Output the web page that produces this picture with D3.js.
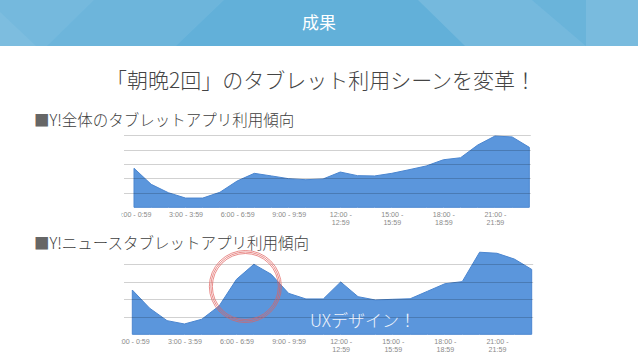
<!DOCTYPE html>
<html>
<head>
<meta charset="utf-8">
<script src="https://cdn.jsdelivr.net/npm/d3@7"></script>
<style>
  body { margin: 0; background: #fff; }
  svg { display: block; font-family: "Noto Sans CJK JP", "Noto Sans", sans-serif; }
  .tick-label { font-family: "Liberation Sans", sans-serif; font-size: 7.1px; fill: #8a8a8a; }
</style>
</head>
<body>
<svg id="chart" width="638" height="359"></svg>
<script>
var width = 638, height = 359;

// data
var hours = d3.range(0, 24);
var totalUsage = [2.70, 1.59, 1.01, 0.64, 0.64, 1.04, 1.82, 2.35, 2.17, 1.98, 1.91, 1.96,
                  2.44, 2.19, 2.17, 2.35, 2.60, 2.86, 3.29, 3.43, 4.31, 4.93, 4.87, 4.15];
var newsUsage = [2.53, 1.49, 0.78, 0.59, 0.86, 1.62, 3.14, 4.00, 3.43, 2.34, 2.02, 2.02,
                 2.99, 2.15, 1.96, 2.00, 2.03, 2.46, 2.89, 3.01, 4.69, 4.63, 4.30, 3.71];
var tickHours = [0, 3, 6, 9, 12, 15, 18, 21];
var tickLabels = ["0:00 - 0:59", "3:00 - 3:59", "6:00 - 6:59", "9:00 - 9:59",
                  "12:00 - 12:59", "15:00 - 15:59", "18:00 - 18:59", "21:00 - 21:59"];

var svg = d3.select("#chart");

// header band
var header = svg.append("g");
header.append("rect").attr("width", width).attr("height", 46).attr("fill", "#62b0d9");
var shapes = [
  {pts: [[0,0],[94,0],[47,46],[0,46]], o: 0.12},
  {pts: [[0,12],[36,46],[0,46]], o: 0.06},
  {pts: [[94,0],[224,0],[176,46],[47,46]], o: 0.07},
  {pts: [[418,0],[532,0],[586,46],[465,46]], o: 0.12},
  {pts: [[532,0],[586,0],[586,46]], o: 0.05},
  {pts: [[586,0],[638,0],[638,46],[586,46]], o: 0.15}
];
header.selectAll("polygon").data(shapes).join("polygon")
    .attr("points", d => d.pts.join(" "))
    .attr("fill", "#fff")
    .attr("fill-opacity", d => d.o);
header.append("text")
    .attr("x", width / 2).attr("y", 29)
    .attr("text-anchor", "middle")
    .attr("font-size", 17)
    .attr("fill", "#fff")
    .text("成果");

// titles
svg.append("text")
    .attr("x", 321).attr("y", 88)
    .attr("text-anchor", "middle")
    .attr("font-size", 21)
    .attr("font-weight", 300)
    .attr("fill", "#444")
    .text("「朝晩2回」のタブレット利用シーンを変革！");

function heading(y, label) {
  var t = svg.append("text")
      .attr("x", 34).attr("y", y)
      .attr("font-size", 15.5)
      .attr("font-weight", 300)
      .attr("fill", "#3e3e3e");
  t.append("tspan").attr("fill", "#666").text("■");
  t.append("tspan").text(label);
}
heading(126, "Y!全体のタブレットアプリ利用傾向");
heading(249, "Y!ニュースタブレットアプリ利用傾向");

svg.append("defs").append("clipPath").attr("id", "clip")
  .append("rect").attr("x", 121).attr("y", 0).attr("width", 420).attr("height", height);

function drawChart(values, x0, x1, base, step, gridMax) {
  var g = svg.append("g").attr("clip-path", "url(#clip)");
  var x = d3.scaleLinear().domain([0, 23]).range([x0, x1]);
  var y = d3.scaleLinear().domain([0, 1]).range([base, base - step]);

  var area = d3.area()
      .x((d, i) => x(hours[i]))
      .y0(y(0))
      .y1(d => y(d));

  g.append("path")
      .attr("d", area(values))
      .attr("fill", "#5b96dc")
      .attr("stroke", "#4b86d0")
      .attr("stroke-width", 1);

  g.selectAll(".grid").data(d3.range(1, gridMax + 1)).join("line")
      .attr("x1", 124).attr("x2", x1 + 1.5)
      .attr("y1", d => Math.round(y(d)) + 0.5)
      .attr("y2", d => Math.round(y(d)) + 0.5)
      .attr("stroke", "#000")
      .attr("stroke-opacity", 0.18);

  var axis = d3.axisBottom(x)
      .tickValues(tickHours)
      .tickSize(0)
      .tickFormat("");
  var ax = g.append("g")
      .attr("transform", "translate(0," + base + ")")
      .call(axis);
  ax.select(".domain").remove();

  // long labels wrap onto a second line, each line its own text
  ax.selectAll(".tick").each(function(d, i) {
    var label = tickLabels[i];
    var lines = d >= 10 ? [label.split(" - ")[0] + " -", label.split(" - ")[1]] : [label];
    var tick = d3.select(this);
    lines.forEach(function(line, j) {
      tick.append("text")
          .attr("class", "tick-label")
          .attr("text-anchor", "middle")
          .attr("y", 9.3 + j * 8.4)
          .text(line);
    });
  });
  return {x: x, y: y};
}

drawChart(totalUsage, 134, 529.3, 207.3, 14.45, 5);
var news = drawChart(newsUsage, 132.3, 531.7, 334.3, 17.5, 4);

// highlight around the morning peak
svg.append("g").selectAll("circle").data([33, 34.5, 36]).join("circle")
    .attr("cx", news.x(7) - 8.5)
    .attr("cy", 286.5)
    .attr("r", d => d)
    .attr("fill", "none")
    .attr("stroke", "#e0605e")
    .attr("stroke-opacity", 0.8)
    .attr("stroke-width", 0.9);

svg.append("text")
    .attr("x", 310).attr("y", 327)
    .attr("font-size", 17)
    .attr("font-weight", 300)
    .attr("fill", "#eef3fb")
    .text("UXデザイン！");
</script>
</body>
</html>
